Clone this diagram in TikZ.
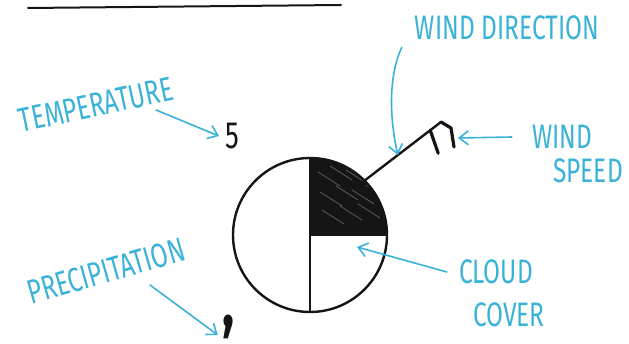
\documentclass[tikz,border=0pt]{standalone}
\usepackage{fontspec}
\setmainfont{Fira Sans}[FakeStretch=0.72]
\usetikzlibrary{arrows.meta,calc}
\definecolor{note-blue}{HTML}{3AB2D8}
\definecolor{ink-black}{HTML}{151515}

\begin{document}
\begin{tikzpicture}[x=1pt, y=-1pt,
    ink/.style={draw=ink-black, line width=2.4pt, line cap=round, line join=round},
    pointer/.style={draw=note-blue, line width=1.6pt, line cap=round,
        -{Straight Barb[length=9pt, width=14pt]}},
    note/.style={text=note-blue, font=\fontsize{34}{34}\selectfont, inner sep=0pt},
    digit/.style={text=ink-black, font=\fontsize{38}{38}\selectfont, inner sep=0pt}]
  \useasboundingbox (0,0) rectangle (629,344);
  \draw[ink-black, line width=2pt, line cap=round] (28,8) -- (341,5);

  % station circle
  \coordinate (c) at (310,235);
  \begin{scope}
    \clip (310,158) rectangle (388,235);
    \fill[ink-black] (c) circle[radius=77];
    \foreach \x/\y in {318/172, 330/166, 346/170, 320/192, 336/186, 352/190,
                       322/210, 340/206, 358/204, 366/185}
      \draw[white, opacity=0.3, line width=0.8pt] (\x,\y) -- ++(22,14);
  \end{scope}
  \draw[ink] (c) circle[radius=77];
  \draw[ink] (310,158) -- (310,312);
  \draw[ink] (c) -- (387,235);
  \coordinate (stembase) at (364,181);
  \coordinate (stemtip) at (441,122);
  \draw[ink] (stembase) -- (stemtip);
  \draw[ink, line width=3.2pt] (stemtip) -- ++(10,6) -- ++(3,19);
  \draw[ink, line width=3.2pt] ($(stembase)!0.86!(stemtip)$) -- ++(8,23);
  \coordinate (stemmid) at ($(stembase)!0.44!(stemtip)$);
  \coordinate (barb) at (458,138);
  \coordinate (cloudspot) at (357,247);

  % values and labels
  \node[digit] (five) at (232,136) {5};
  \node[digit, font=\fontsize{70}{70}\selectfont\bfseries] (comma) at (229,327) {,};
  \node[note, rotate=12] (temp) at (96,105) {TEMPERATURE};
  \node[note, rotate=16] (prec) at (106,271) {PRECIPITATION};
  \node[note] (dir) at (507,28) {WIND DIRECTION};
  \node[note] (speedA) at (562,137) {WIND};
  \node[note] (speedB) at (588,171) {SPEED};
  \node[note] (cloudA) at (496,272) {CLOUD};
  \node[note] (cloudB) at (509,315) {COVER};

  \draw[pointer] ($(temp.center)+(60,5)$) -- ([xshift=-6pt]five.west);
  \draw[pointer] ($(prec.center)+(44,14)$) -- ([xshift=-5pt, yshift=-8pt]comma.west);
  \draw[pointer] (dir.south west) ++(-13,7) .. controls +(-14,30) and +(-8,-35) .. (stemmid);
  \draw[pointer] (speedA.west) ++(-20,0) -- (barb);
  \draw[pointer] (cloudA.west) ++(-12,0) -- (cloudspot);
\end{tikzpicture}
\end{document}
